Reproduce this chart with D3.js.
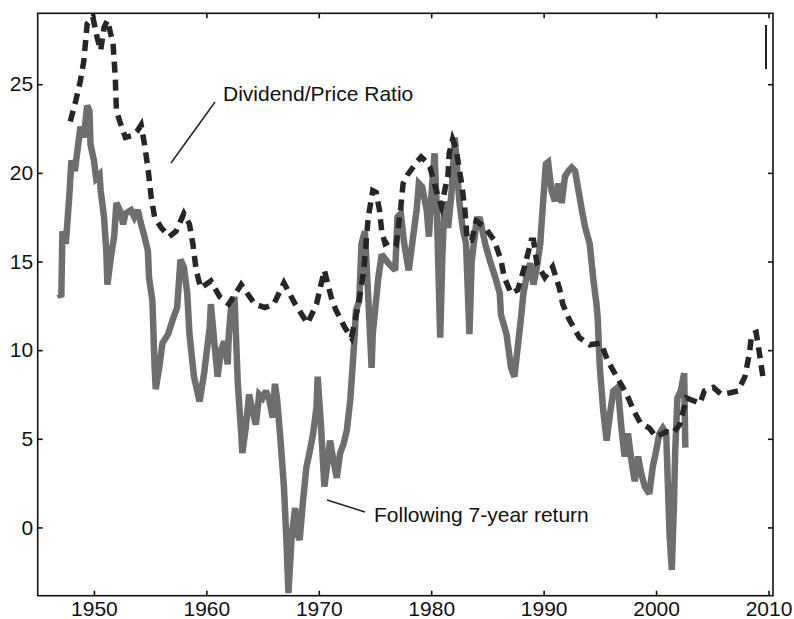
<!DOCTYPE html>
<html>
<head>
<meta charset="utf-8">
<script src="https://cdn.jsdelivr.net/npm/d3@7"></script>
<style>
  body { margin: 0; background: #fff; }
  text { font-family: "Liberation Sans", Arial, Helvetica, sans-serif; }
</style>
</head>
<body>
<div id="chart"></div>
<script>

// Data
// ===========================

// dividend/price ratio (x100), dashed line
const dividendPrice = [
  [1947.9, 22.9], [1948.4, 24.1], [1948.8, 25.2], [1949.1, 26.3], [1949.4, 28.4],
  [1949.9, 28.8], [1950.3, 27.6], [1950.6, 26.9], [1950.9, 28.2], [1951.2, 28.6],
  [1951.7, 27.3], [1951.9, 25.4], [1952.0, 23.5], [1952.3, 22.9], [1952.8, 22.0],
  [1953.4, 22.1], [1953.9, 22.4], [1954.2, 22.7], [1954.5, 21.6], [1954.8, 20.3],
  [1955.1, 18.6], [1955.4, 17.5], [1956.0, 16.9], [1956.7, 16.4], [1957.3, 16.7],
  [1958.0, 17.7], [1958.5, 17.1], [1958.8, 16.0], [1959.1, 14.5], [1959.5, 13.5],
  [1960.4, 13.9], [1961.2, 13.0], [1962.0, 12.6], [1963.1, 13.7], [1964.3, 12.6],
  [1965.2, 12.4], [1966.0, 12.6], [1966.9, 13.8], [1967.9, 12.6], [1969.0, 11.5],
  [1969.8, 12.6], [1970.2, 13.7], [1970.5, 14.5], [1971.1, 13.0], [1971.5, 12.3],
  [1972.3, 11.3], [1972.9, 10.7], [1973.5, 12.5], [1974.0, 14.5], [1974.4, 17.5],
  [1974.8, 19.0], [1975.1, 18.9], [1975.4, 17.9], [1975.6, 16.7], [1975.9, 16.0],
  [1976.5, 16.2], [1976.9, 16.0], [1977.3, 18.1], [1977.5, 19.4], [1977.9, 19.9],
  [1978.7, 20.6], [1979.1, 20.9], [1979.6, 20.6], [1979.9, 20.3], [1980.5, 18.9],
  [1980.9, 18.1], [1981.2, 19.0], [1981.5, 19.9], [1981.6, 21.1], [1981.9, 21.9],
  [1982.2, 21.4], [1982.7, 19.4], [1983.0, 17.9], [1983.2, 16.2], [1983.6, 16.2],
  [1984.0, 17.3], [1984.8, 16.9], [1985.6, 16.2], [1986.2, 15.1], [1986.5, 14.1],
  [1987.1, 13.2], [1987.7, 13.4], [1988.3, 14.7], [1988.9, 16.2], [1989.1, 16.2],
  [1989.4, 14.9], [1990.1, 14.1], [1990.8, 14.7], [1991.4, 13.5], [1991.7, 12.6],
  [1992.3, 11.7], [1993.2, 10.7], [1994.1, 10.3], [1995.1, 10.4], [1995.7, 9.4],
  [1996.5, 8.5], [1997.4, 7.5], [1998.0, 6.6], [1998.6, 5.9], [1999.4, 5.6],
  [2000.0, 5.1], [2000.9, 5.4], [2001.5, 5.3], [2002.1, 5.8], [2002.7, 7.3],
  [2003.9, 7.0], [2004.3, 7.7], [2005.1, 7.9], [2005.8, 7.5], [2006.6, 7.6],
  [2007.3, 7.7], [2007.9, 8.5], [2008.3, 9.8], [2008.5, 10.9], [2008.9, 11.0],
  [2009.2, 9.8], [2009.5, 8.5]
];

// following 7-year return (%), solid grey line
const sevenYearReturn = [
  [1946.9, 13.2], [1947.1, 13.0], [1947.2, 16.7], [1947.5, 16.0], [1947.8, 18.6],
  [1948.0, 20.7], [1948.3, 20.1], [1948.6, 21.6], [1948.8, 22.6], [1949.1, 22.0],
  [1949.4, 23.8], [1949.6, 23.5], [1949.7, 21.6], [1950.0, 20.7], [1950.2, 19.7],
  [1950.5, 19.9], [1950.6, 19.0], [1950.9, 17.5], [1951.1, 15.6], [1951.2, 13.7],
  [1951.5, 15.2], [1951.8, 16.4], [1952.0, 18.3], [1952.3, 17.9], [1952.6, 17.1],
  [1952.8, 17.7], [1953.3, 17.9], [1953.6, 17.5], [1953.9, 17.9], [1954.2, 17.1],
  [1954.5, 16.4], [1954.8, 15.6], [1954.9, 14.1], [1955.2, 12.8], [1955.4, 9.0],
  [1955.5, 7.8], [1955.8, 9.0], [1956.1, 10.4], [1956.6, 10.9], [1957.0, 11.7],
  [1957.4, 12.4], [1957.7, 15.1], [1958.0, 14.7], [1958.3, 13.2], [1958.5, 10.9],
  [1958.9, 8.5], [1959.4, 7.1], [1959.8, 8.7], [1960.3, 11.3], [1960.4, 12.6],
  [1960.7, 10.5], [1961.0, 8.5], [1961.3, 10.0], [1961.6, 10.5], [1961.9, 9.2],
  [1962.0, 10.9], [1962.2, 12.4], [1962.5, 13.0], [1962.8, 8.1], [1963.1, 5.3],
  [1963.2, 4.2], [1963.5, 5.6], [1963.8, 7.5], [1964.1, 6.6], [1964.4, 5.8],
  [1964.7, 7.5], [1965.0, 7.3], [1965.3, 7.7], [1965.6, 7.2], [1965.9, 6.2],
  [1966.1, 8.1], [1966.3, 7.2], [1966.6, 4.9], [1966.9, 2.3], [1967.1, -0.4],
  [1967.3, -3.7], [1967.6, -0.4], [1967.9, 1.1], [1968.1, -0.4], [1968.3, -0.7],
  [1968.6, 1.5], [1968.9, 3.4], [1969.2, 4.3], [1969.5, 5.3], [1969.8, 6.8],
  [1969.9, 8.5], [1970.2, 5.7], [1970.5, 2.3], [1970.8, 3.8], [1971.0, 4.9],
  [1971.3, 3.8], [1971.6, 2.8], [1971.9, 4.2], [1972.2, 4.7], [1972.5, 5.5],
  [1972.8, 7.2], [1973.0, 9.0], [1973.2, 10.9], [1973.3, 12.2], [1973.6, 12.8],
  [1973.8, 16.0], [1974.1, 16.7], [1974.4, 13.0], [1974.7, 9.0], [1974.8, 10.9],
  [1975.3, 14.1], [1975.6, 15.4], [1976.2, 14.9], [1976.8, 14.5], [1977.0, 17.5],
  [1977.3, 17.7], [1977.6, 16.0], [1978.0, 14.5], [1978.7, 17.9], [1978.9, 19.4],
  [1979.2, 19.2], [1979.6, 17.9], [1979.8, 16.4], [1980.0, 18.6], [1980.3, 21.1],
  [1980.5, 17.9], [1980.8, 10.7], [1981.0, 15.5], [1981.2, 18.4], [1981.5, 16.9],
  [1981.8, 18.8], [1982.1, 22.0], [1982.5, 18.4], [1982.8, 16.9], [1983.1, 16.0],
  [1983.4, 10.9], [1983.6, 15.0], [1984.0, 17.1], [1984.3, 17.5], [1984.8, 16.0],
  [1985.2, 15.1], [1985.7, 14.1], [1986.1, 13.2], [1986.2, 12.0], [1986.7, 10.9],
  [1987.1, 9.0], [1987.4, 8.5], [1987.7, 10.2], [1988.0, 11.9], [1988.2, 13.2],
  [1988.6, 14.5], [1988.8, 14.9], [1989.1, 13.7], [1989.4, 14.7], [1989.7, 16.0],
  [1989.9, 17.9], [1990.2, 20.5], [1990.4, 20.6], [1990.7, 19.0], [1991.0, 18.4],
  [1991.3, 19.4], [1991.6, 18.3], [1991.9, 19.8], [1992.2, 20.1], [1992.5, 20.3],
  [1992.8, 20.1], [1993.1, 19.0], [1993.4, 17.9], [1993.7, 16.9], [1994.1, 16.0],
  [1994.4, 14.1], [1994.7, 12.6], [1994.8, 11.9], [1995.0, 9.0], [1995.3, 6.6],
  [1995.6, 4.9], [1995.9, 6.4], [1996.2, 7.7], [1996.6, 7.9], [1996.9, 5.7],
  [1997.2, 4.0], [1997.5, 5.3], [1997.8, 3.8], [1998.1, 2.6], [1998.4, 4.0],
  [1998.7, 3.0], [1999.0, 2.3], [1999.4, 1.9], [1999.7, 3.4], [2000.0, 4.3],
  [2000.3, 5.3], [2000.6, 5.6], [2000.9, 5.3], [2001.1, 1.5], [2001.2, -0.4],
  [2001.4, -2.4], [2001.6, 1.5], [2001.7, 4.3], [2001.9, 7.3], [2002.2, 7.7],
  [2002.5, 8.7], [2002.6, 4.5]
];

const xTicks = [1950, 1960, 1970, 1980, 1990, 2000, 2010];
const yTicks = [0, 5, 10, 15, 20, 25];
const xDomain = [1945, 2010.4];
const yDomain = [-3.85, 29];

const labelDP = "Dividend/Price Ratio";
const labelRet = "Following 7-year return";


// Chart
// =====

const W = 794, H = 619;
const LEFT = 37.7, RIGHT = 773, TOP = 13.3, BOTTOM = 595.7;

const svg = d3.select('#chart').append('svg')
  .attr('width', W)
  .attr('height', H);

const x = d3.scaleLinear().domain(xDomain).range([LEFT, RIGHT]);
const y = d3.scaleLinear().domain(yDomain).range([BOTTOM, TOP]);

svg.append('clipPath').attr('id', 'plot-clip')
  .append('rect')
    .attr('x', LEFT).attr('y', TOP)
    .attr('width', RIGHT - LEFT).attr('height', BOTTOM - TOP);

const line = d3.line()
  .x(d => x(d[0]))
  .y(d => y(d[1]));

const plot = svg.append('g').attr('clip-path', 'url(#plot-clip)');

plot.append('path')
  .datum(sevenYearReturn)
  .attr('fill', 'none')
  .attr('stroke', '#6e6e6e')
  .attr('stroke-width', 6.5)
  .attr('stroke-linejoin', 'miter')
  .attr('stroke-miterlimit', 2.5)
  .attr('d', line);

plot.append('path')
  .datum(dividendPrice)
  .attr('fill', 'none')
  .attr('stroke', '#262626')
  .attr('stroke-width', 5.5)
  .attr('stroke-dasharray', '11,7')
  .attr('d', line);

// axes, matlab style: ticks inside on all four sides
const fontSize = 21;

svg.append('g')
  .attr('transform', `translate(0,${BOTTOM})`)
  .call(d3.axisBottom(x).tickValues(xTicks).tickFormat(d3.format('d'))
    .tickSizeInner(-5).tickSizeOuter(0).tickPadding(5));

svg.append('g')
  .attr('transform', `translate(${LEFT},0)`)
  .call(d3.axisLeft(y).tickValues(yTicks)
    .tickSizeInner(-5).tickSizeOuter(0).tickPadding(4.5));

svg.append('g')
  .attr('transform', `translate(0,${TOP})`)
  .call(d3.axisTop(x).tickValues(xTicks).tickFormat('')
    .tickSizeInner(-5).tickSizeOuter(0));

svg.append('g')
  .attr('transform', `translate(${RIGHT},0)`)
  .call(d3.axisRight(y).tickValues(yTicks).tickFormat('')
    .tickSizeInner(-5).tickSizeOuter(0));

svg.selectAll('.domain').remove();
svg.selectAll('.tick line').attr('stroke', '#111').attr('stroke-width', 1.6);
svg.selectAll('.tick text')
  .attr('font-size', fontSize)
  .attr('fill', '#111')
  .style('font-family', '"Liberation Sans", Arial, sans-serif');

svg.append('rect')
  .attr('x', LEFT).attr('y', TOP)
  .attr('width', RIGHT - LEFT).attr('height', BOTTOM - TOP)
  .attr('fill', 'none')
  .attr('stroke', '#111')
  .attr('stroke-width', 1.6);

// annotations
svg.append('line')
  .attr('x1', 171).attr('y1', 163)
  .attr('x2', 215).attr('y2', 102)
  .attr('stroke', '#222').attr('stroke-width', 1.5);

svg.append('text')
  .attr('x', 223).attr('y', 101)
  .attr('font-size', fontSize)
  .attr('fill', '#111')
  .text(labelDP);

svg.append('line')
  .attr('x1', 327).attr('y1', 500)
  .attr('x2', 365).attr('y2', 512)
  .attr('stroke', '#222').attr('stroke-width', 1.5);

svg.append('text')
  .attr('x', 374).attr('y', 522)
  .attr('font-size', fontSize)
  .attr('fill', '#111')
  .text(labelRet);

// small stray mark near top right corner
svg.append('line')
  .attr('x1', 766).attr('y1', 25)
  .attr('x2', 766).attr('y2', 69)
  .attr('stroke', '#222').attr('stroke-width', 2);

</script>
</body>
</html>
